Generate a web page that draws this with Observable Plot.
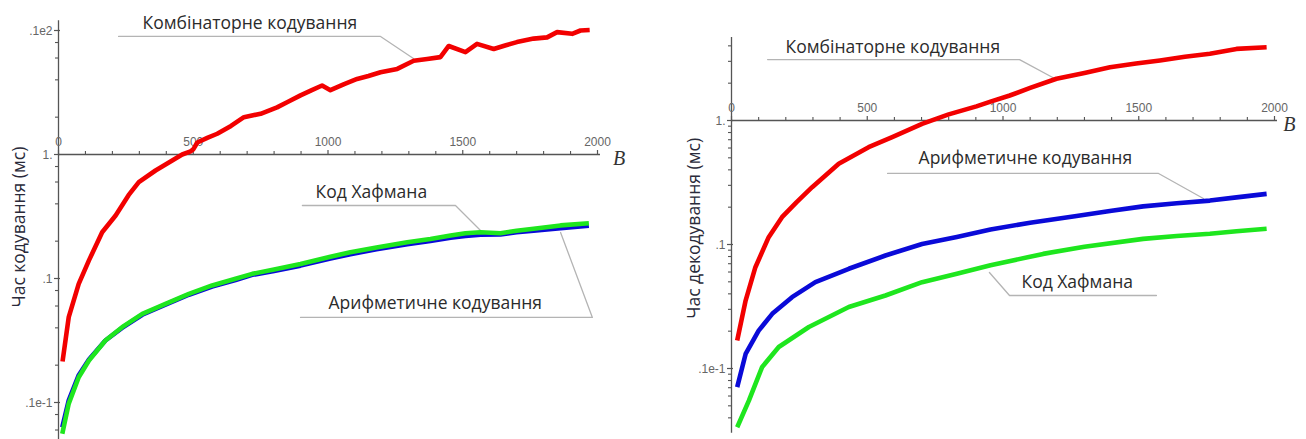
<!DOCTYPE html>
<html>
<head>
<meta charset="utf-8">
<script src="https://cdn.jsdelivr.net/npm/d3@7"></script>
<script src="https://cdn.jsdelivr.net/npm/@observablehq/plot@0.6"></script>
<style>
  html, body { margin: 0; padding: 0; background: #fff; }
  #wrap { display: flex; width: 1306px; height: 439px; overflow: hidden; }
</style>
</head>
<body>
<div id="wrap"></div>
<script>
// ---------- Data: encoding time (left panel) ----------
const encCombB = [15,38,75,113,162,212,260,298,360,422,459,490,500,515,552,589,640,688,750,811,850,898,940,978,1009,1060,1108,1150,1195,1257,1318,1368,1417,1448,1510,1553,1615,1660,1701,1763,1813,1850,1906,1937,1971];
const encCombV = [0.0214,0.0488,0.0906,0.140,0.236,0.322,0.47,0.598,0.743,0.895,1.0,1.06,1.10,1.25,1.36,1.47,1.7,2.0,2.13,2.4,2.65,3.0,3.3,3.6,3.3,3.7,4.07,4.3,4.6,4.9,5.7,5.9,6.1,7.5,6.7,7.8,7.1,7.6,8.06,8.6,8.8,9.7,9.4,10.0,10.1];
const encHuffB  = [14,38,75,113,174,236,311,397,484,570,657,719,800,898,1009,1083,1180,1294,1380,1455,1510,1566,1640,1700,1763,1863,1968];
const encHuffV  = [0.0056,0.0098,0.016,0.0218,0.0316,0.0405,0.0519,0.0625,0.0752,0.0879,0.0994,0.109,0.118,0.131,0.150,0.163,0.178,0.196,0.208,0.222,0.232,0.236,0.232,0.243,0.252,0.268,0.279];
const encArithB = encHuffB;
const encArithV = [0.0063,0.0104,0.0166,0.0222,0.0316,0.0400,0.0510,0.0615,0.0740,0.0860,0.097,0.107,0.115,0.127,0.145,0.157,0.172,0.189,0.201,0.213,0.220,0.226,0.227,0.236,0.243,0.255,0.266];

// ---------- Data: decoding time (right panel) ----------
const decCombB  = [21,52,88,137,186,240,297,395,505,592,702,800,902,954,1025,1100,1197,1300,1394,1490,1578,1670,1762,1860,1971];
const decCombV  = [0.0168,0.0353,0.0656,0.1146,0.166,0.22,0.29,0.448,0.609,0.734,0.94,1.12,1.30,1.42,1.59,1.83,2.17,2.42,2.69,2.88,3.05,3.27,3.45,3.78,3.9];
const decArithB = [21,52,100,150,223,309,432,567,702,830,954,1100,1271,1400,1516,1640,1762,1860,1971];
const decArithV = [0.00707,0.0131,0.0202,0.0276,0.0376,0.0497,0.0637,0.0815,0.101,0.115,0.132,0.150,0.170,0.187,0.203,0.215,0.226,0.240,0.256];
const decHuffB  = [21,64,113,174,285,432,567,702,830,954,1148,1300,1516,1640,1762,1860,1971];
const decHuffV  = [0.00336,0.0055,0.0103,0.0149,0.0216,0.0313,0.0388,0.0497,0.058,0.068,0.084,0.096,0.111,0.117,0.122,0.128,0.134];

// ---------- Axis ticks ----------
const xMajorTicks = [0, 500, 1000, 1500, 2000];
const xMinorTicks = [100,200,300,400,600,700,800,900,1100,1200,1300,1400,1600,1700,1800,1900];
const yMajorLeft = [0.01, 0.1, 1, 10];
const yLabelsLeft = [".1e-1", ".1", "1.", ".1e2"];
const yMajorRight = [0.01, 0.1, 1];
const yLabelsRight = [".1e-1", ".1", "1."];
const minorLeftMult = [2, 4, 6, 8];
const minorRightMult = [2, 3, 4, 5, 6, 7, 8, 9];

// ---------- Annotations (callouts) ----------
const seriesNames = ["Комбінаторне кодування", "Код Хафмана", "Арифметичне кодування"];
const encLabelB = [312, 954, 1002];
const encLabelV = [11.4, 0.494, 0.0629];
const encLeaders = [
  [[223, 8.95], [1195, 8.95], [1317, 5.95]],
  [[905, 0.388], [1473, 0.388], [1566, 0.244]],
  [[898, 0.0485], [1981, 0.0485], [1863, 0.235]]
];
const decLabelB = [199, 1068, 689];
const decLabelV = [3.88, 0.0494, 0.494];
const decLeaders = [
  [[133, 3.10], [1061, 3.10], [1190, 2.18]],
  [[950, 0.0595], [1024, 0.0388], [1565, 0.0388]],
  [[575, 0.374], [1573, 0.374], [1738, 0.235]]
];

const colors = {comb: "#f20000", arith: "#0a0ad8", huff: "#1ee61e"};
const W = 653, H = 439;
const sans = "'Open Sans', 'Noto Sans', sans-serif";
const tickFont = "'Liberation Sans', Arial, sans-serif";

function rows(B, V, s) { return B.map((b, i) => ({B: b, v: V[i], s})); }

function panel(cfg) {
  const innerW = W - cfg.ml - cfg.mr;
  const bPerPx = 2000 / innerW;
  const decadePx = 124;
  const f = px => 10 ** (px / decadePx);
  const yDomain = [10 ** ((cfg.y1px - H) / decadePx), 10 ** (cfg.y1px / decadePx)];
  const minor = [];
  for (const d of [0.001, 0.01, 0.1, 1, 10]) for (const m of cfg.minorMult) {
    const v = d * m;
    if (v > cfg.axisBottom && v < cfg.axisTop) minor.push(v);
  }
  const leaderRows = cfg.leaders.flatMap((pts, k) => pts.map(([b, v]) => ({b, v, k})));
  const labelRows = cfg.labelB.map((b, i) => ({b, v: cfg.labelV[i], t: cfg.labelT[i]}));
  return Plot.plot({
    width: W, height: H,
    marginLeft: cfg.ml, marginRight: cfg.mr, marginTop: 0, marginBottom: 0,
    x: {domain: [0, 2000], axis: null},
    y: {type: "log", domain: yDomain, axis: null},
    marks: [
      // axes
      Plot.ruleX([0], {y1: cfg.axisBottom, y2: cfg.axisTop, stroke: "#555", strokeWidth: 1.3}),
      Plot.ruleY([1], {x1: 0, x2: 2000 + 3 * bPerPx, stroke: "#555", strokeWidth: 1.3}),
      Plot.ruleX(xMajorTicks, {y1: 1 / f(1), y2: f(4), stroke: "#555", strokeWidth: 1.2}),
      Plot.ruleX(xMinorTicks, {y1: 1 / f(1), y2: f(3), stroke: "#555", strokeWidth: 1.1}),
      Plot.ruleY(cfg.yMajor, {x1: -4 * bPerPx, x2: 2 * bPerPx, stroke: "#555", strokeWidth: 1.2}),
      Plot.ruleY(minor, {x1: -3 * bPerPx, x2: 0, stroke: "#555", strokeWidth: 1.1}),
      Plot.text(xMajorTicks, {x: d => d, y: 1, dy: -12, text: d => String(d), fill: "#666", fontSize: 12, fontFamily: tickFont}),
      Plot.text(cfg.yMajor, {x: 0, y: d => d, dx: -6, dy: 1, textAnchor: "end", text: (d, i) => cfg.yLabels[i], fill: "#666", fontSize: 12, fontFamily: tickFont}),
      Plot.text(["B"], {x: cfg.bX, y: 1, dy: 4, text: d => d, fontFamily: "'Liberation Serif', 'DejaVu Serif', serif", fontStyle: "italic", fontSize: 20, fill: "#333"}),
      // y-axis title, placed left of the axis (x in B units, y in ms)
      Plot.text([cfg.title], {x: cfg.titlePx * bPerPx, y: cfg.titleV, rotate: -90, text: d => d, fontFamily: sans, fontSize: 17.5, fill: "#2a2a3a"}),
      // leaders
      Plot.line(leaderRows, {x: "b", y: "v", z: "k", stroke: "#b4b4b4", strokeWidth: 1.3}),
      // data
      Plot.line(cfg.data, {x: "B", y: "v", z: "s", stroke: d => colors[d.s], strokeWidth: 4.6, strokeLinejoin: "round", strokeLinecap: "butt"}),
      // callout labels
      Plot.text(labelRows, {x: "b", y: "v", text: "t", textAnchor: "start", fontFamily: sans, fontSize: 17.5, fill: "#2b2b2b"})
    ]
  });
}

const left = panel({
  ml: 58, mr: 56, y1px: 154,
  axisBottom: 10 ** ((154 - 440) / 124), axisTop: 12.0,
  yMajor: yMajorLeft, yLabels: yLabelsLeft, minorMult: minorLeftMult,
  bX: 2080, title: "Час кодування (мс)", titlePx: -39, titleV: 0.26,
  labelB: encLabelB, labelV: encLabelV, labelT: seriesNames, leaders: encLeaders,
  data: [...rows(encCombB, encCombV, "comb"), ...rows(encArithB, encArithV, "arith"), ...rows(encHuffB, encHuffV, "huff")]
});
const right = panel({
  ml: 78, mr: 32, y1px: 120,
  axisBottom: 0.003, axisTop: 4.67,
  yMajor: yMajorRight, yLabels: yLabelsRight, minorMult: minorRightMult,
  bX: 2055, title: "Час декодування (мс)", titlePx: -37, titleV: 0.135,
  labelB: decLabelB, labelV: decLabelV, labelT: seriesNames, leaders: decLeaders,
  data: [...rows(decCombB, decCombV, "comb"), ...rows(decArithB, decArithV, "arith"), ...rows(decHuffB, decHuffV, "huff")]
});
document.getElementById("wrap").append(left, right);
</script>
</body>
</html>
